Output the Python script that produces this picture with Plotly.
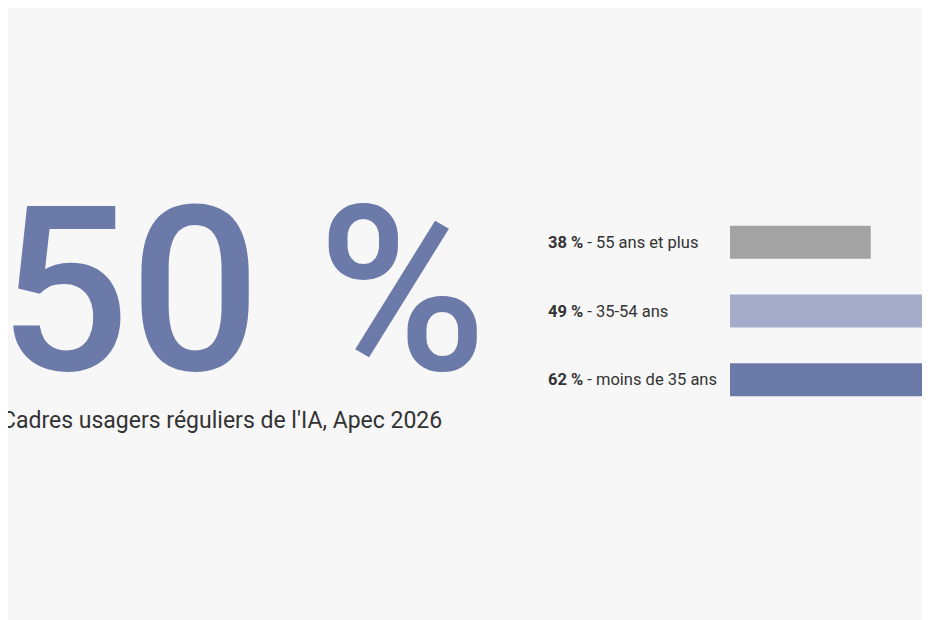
import plotly.graph_objects as go

# ── Data ──────────────────────────────────────────────────────────────────
groups = ["55 ans et plus", "35-54 ans", "moins de 35 ans"]
values = [38, 49, 62]
colors = ["#a3a3a3", "#a4acc9", "#6b7aa8"]
headline = "50 %"
caption = "Cadres usagers réguliers de l'IA, Apec 2026"

FONT = "Roboto, Arial, sans-serif"

fig = go.Figure()
fig.add_trace(go.Bar(
    y=groups, x=values, orientation="h",
    marker=dict(color=colors, line=dict(width=0)),
    width=0.48, hoverinfo="skip",
))

for g, v in zip(groups, values):
    fig.add_annotation(
        x=538 / 930, xref="paper", y=g, yref="y", xanchor="left",
        text=f"<b>{v} %</b> - {g}", showarrow=False,
        font=dict(size=16.5, color="#333", family=FONT),
    )

fig.add_annotation(
    x=-0.012, xref="paper", y=1 - 283 / 620, yref="paper",
    xanchor="left", yanchor="middle", text=headline, showarrow=False,
    font=dict(size=230, color="#6b7aa8", family=FONT, weight=500),
)
fig.add_annotation(
    x=-0.01, xref="paper", y=1 - 412 / 620, yref="paper",
    xanchor="left", yanchor="middle", text=caption, showarrow=False,
    font=dict(size=23, color="#333", family=FONT),
)

fig.update_layout(
    width=930, height=620,
    margin=dict(l=0, r=0, t=0, b=0),
    paper_bgcolor="#f7f7f7", plot_bgcolor="#f7f7f7",
    showlegend=False,
    xaxis=dict(domain=[722 / 930, 1], range=[8.7, 52], visible=False),
    yaxis=dict(domain=[1 - 406 / 620, 1 - 200 / 620], visible=False,
               categoryorder="array", categoryarray=groups[::-1]),
)

fig.write_html("out.html")
